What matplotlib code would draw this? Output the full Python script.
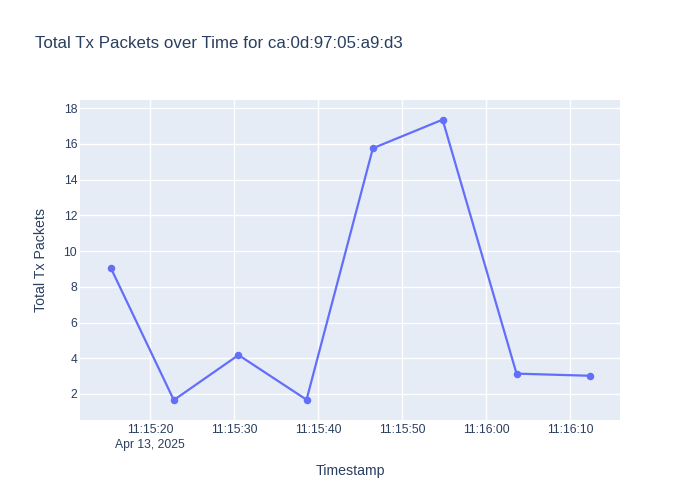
import matplotlib
matplotlib.use("Agg")
import matplotlib.pyplot as plt
import matplotlib.dates as mdates
import pandas as pd

# values
timestamps = ["2025-04-13 11:15:15.3", "2025-04-13 11:15:22.8", "2025-04-13 11:15:30.5",
              "2025-04-13 11:15:38.6", "2025-04-13 11:15:46.5", "2025-04-13 11:15:54.8",
              "2025-04-13 11:16:03.6", "2025-04-13 11:16:12.3"]
tx_packets = [9.05, 1.66, 4.18, 1.68, 15.75, 17.35, 3.14, 3.02]
mac = "ca:0d:97:05:a9:d3"

times = pd.to_datetime(timestamps)

plt.rcParams['font.family'] = ['Liberation Sans', 'DejaVu Sans']
text_color = '#2a3f5f'

fig = plt.figure(figsize=(7, 5), dpi=100)
ax = fig.add_axes([80 / 700, 80 / 500, 540 / 700, 320 / 500])
ax.set_facecolor('#e5ecf6')

ax.plot(times, tx_packets, color='#636efa', linewidth=1.6, marker='o', markersize=4.4, zorder=3)

# plotly-like autorange with padding
ax.set_xlim(pd.Timestamp("2025-04-13 11:15:11.63"), pd.Timestamp("2025-04-13 11:16:15.92"))
ax.set_ylim(0.545, 18.45)

ax.xaxis.set_major_locator(mdates.SecondLocator(bysecond=range(0, 60, 10)))


def fmt_time(x, pos):
    d = mdates.num2date(x)
    s = d.strftime('%H:%M:%S')
    if pos == 0:
        s += '\n' + d.strftime('%b %d, %Y')
    return s


ax.xaxis.set_major_formatter(plt.FuncFormatter(fmt_time))
ax.set_yticks(range(2, 19, 2))

ax.grid(True, color='white', linewidth=1)
ax.set_axisbelow(True)
for s in ax.spines.values():
    s.set_visible(False)
ax.tick_params(length=0, labelsize=8.7, colors=text_color, pad=3)
ax.tick_params(axis='y', pad=2)
for lbl in ax.get_xticklabels():
    lbl.set_linespacing(1.3)

ax.set_xlabel('Timestamp', fontsize=10.2, color=text_color)
ax.set_ylabel('Total Tx Packets', fontsize=10.2, color=text_color)
ax.xaxis.set_label_coords(0.5, -(471 - 420) / 320, transform=ax.transAxes)
ax.xaxis.label.set_va('center')
ax.yaxis.set_label_coords(-(80 - 41) / 540, 0.5, transform=ax.transAxes)
ax.yaxis.label.set_va('center')

fig.text(35 / 700, 1 - 44 / 500, f'Total Tx Packets over Time for {mac}',
         fontsize=12.2, color=text_color, va='center', ha='left')

fig.savefig('out.png', dpi=100, facecolor='white')
